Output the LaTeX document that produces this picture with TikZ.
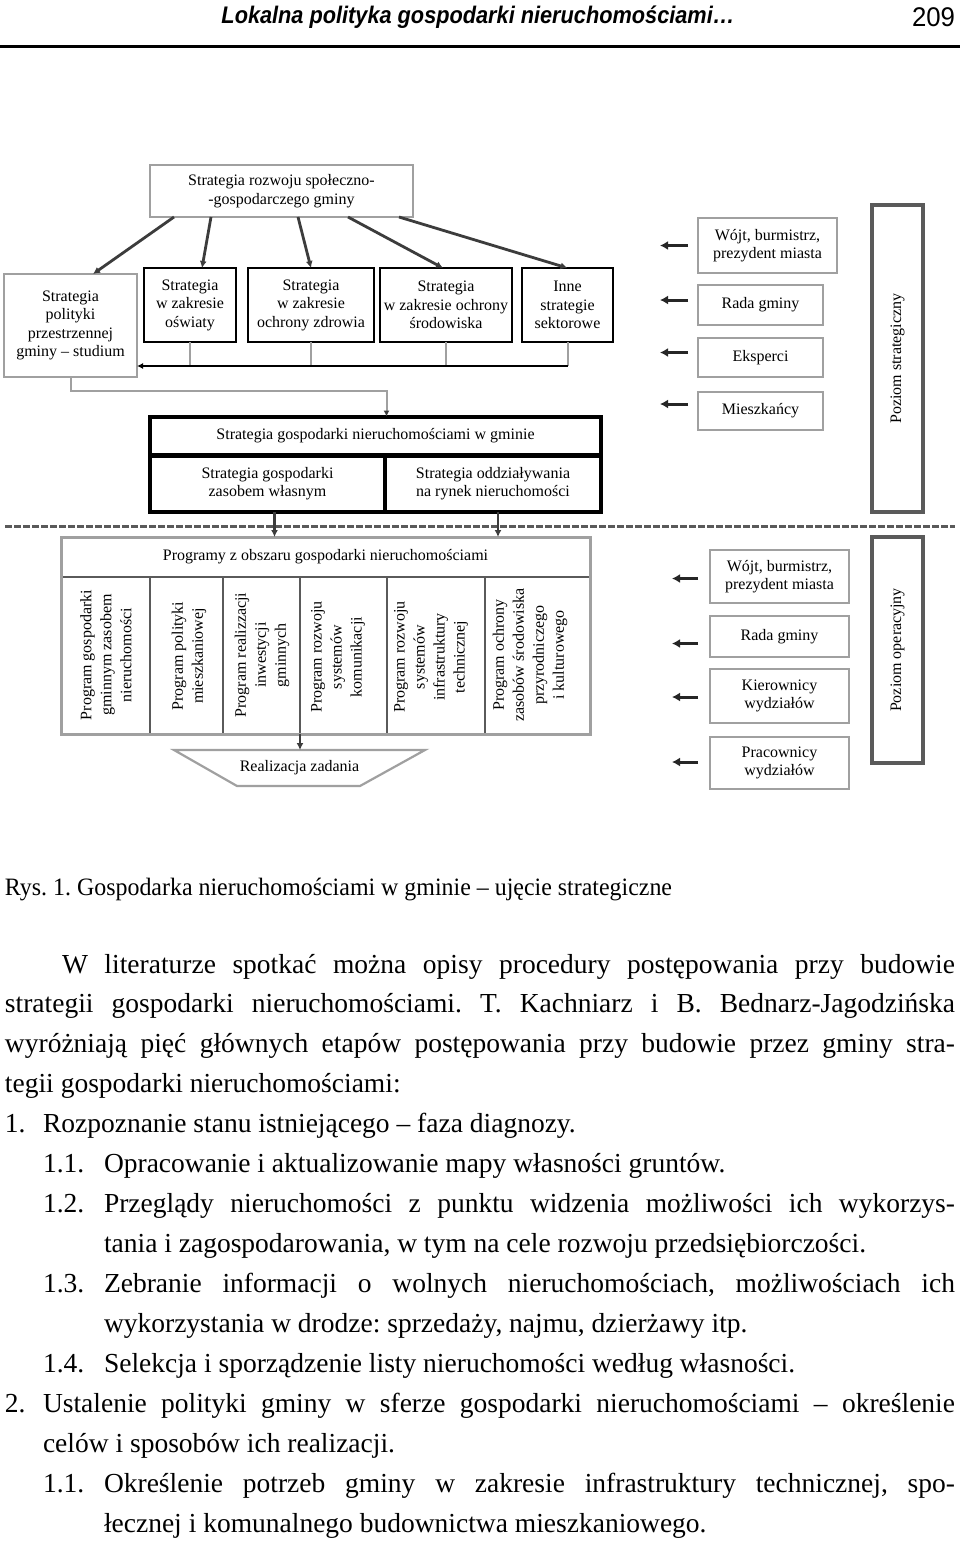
\documentclass[tikz,border=0pt]{standalone}
\usepackage{fontspec}
\setmainfont{Liberation Serif}
\newfontfamily\hdrfont{Liberation Sans}
\usepackage{graphicx}
\usetikzlibrary{arrows.meta,calc}
\definecolor{bgray}{HTML}{A0A0A0}
\definecolor{dgray}{HTML}{3C3C3C}
\definecolor{mgray}{HTML}{5A5A5A}
\frenchspacing
\begin{document}
\begin{tikzpicture}[x=1pt,y=-1pt,
  every node/.style={inner sep=0pt, outer sep=0pt},
  dtext/.style={font=\fontsize{16}{18.5}\selectfont, align=center},
  gbox/.style={dtext, draw=bgray, line width=2.2pt, fill=white},
  bbox/.style={dtext, draw=black, line width=1.8pt, fill=white},
  sbox/.style={dtext, draw=black, line width=4pt},
  rbox/.style={dtext, draw=bgray, line width=2.6pt, fill=white},
  lvl/.style={dtext, draw=mgray, line width=3.5pt, rotate=90},
  colbox/.style={draw=mgray, line width=1.2pt},
  vtext/.style={font=\fontsize{16}{20}\selectfont, align=center, rotate=90},
  arr/.style={draw=dgray, line width=2.8pt, -{Latex[length=7pt,width=7pt]}},
  garr/.style={draw=bgray, line width=2pt, -{Latex[length=6pt,width=6pt,color=dgray]}},
  busarr/.style={draw=black, line width=2.5pt, -{Latex[length=6pt,width=6pt]}},
  gline/.style={draw=bgray, line width=2pt},
  sarr/.style={draw=black!85, line width=3pt, -{Latex[length=8pt,width=9pt]}},
  body/.style={anchor=base west, font=\fontsize{27.5}{40}\selectfont},
]
\useasboundingbox (0,0) rectangle (960,1542);
\fill[white] (0,0) rectangle (960,1542);

% ---------- page header ----------
\node[anchor=center] (hdr) at (478,17) {\resizebox{513pt}{\height}{\hdrfont\bfseries\itshape\fontsize{24}{28}\selectfont Lokalna polityka gospodarki nieruchomościami…}};
\node[anchor=east] (pg) at (955,17) {\resizebox{43pt}{\height}{\hdrfont\fontsize{27}{30}\selectfont 209}};
\draw[line width=3pt] (0,46) -- (960,46);

% ---------- strategic level ----------
\node[gbox, minimum width=263pt, minimum height=52pt] (top) at (281.5,191) {Strategia rozwoju społeczno-\\-gospodarczego gminy};

\node[gbox, minimum width=133pt, minimum height=103pt] (lb) at (70.5,325.5) {Strategia\\polityki\\przestrzennej\\gminy – studium};
\node[bbox, minimum width=92pt, minimum height=74pt] (b2) at (190,305) {Strategia\\w zakresie\\oświaty};
\node[bbox, minimum width=126pt, minimum height=74pt] (b3) at (311,305) {Strategia\\w zakresie\\ochrony zdrowia};
\node[bbox, minimum width=132pt, minimum height=74pt] (b4) at (446,305) {Strategia\\w zakresie ochrony\\środowiska};
\node[bbox, minimum width=91pt, minimum height=74pt] (b5) at (567.5,305) {Inne\\strategie\\sektorowe};

\draw[arr] ([xshift=-107.5pt]top.south) -- ([xshift=22.5pt]lb.north);
\draw[arr] ([xshift=-70.5pt]top.south) -- ([xshift=12pt]b2.north);
\draw[arr] ([xshift=16.5pt]top.south) -- (b3.north);
\draw[arr] ([xshift=66.5pt]top.south) -- ([xshift=-3pt]b4.north);
\draw[arr] ([xshift=117.5pt]top.south) -- (b5.north);

\coordinate (busy) at (0,366);
\draw[gline] (b2.south) -- (b2.south |- busy);
\draw[gline] (b3.south) -- (b3.south |- busy);
\draw[gline] (b4.south) -- (b4.south |- busy);
\draw[gline] (b5.south) -- (b5.south |- busy);
\draw[busarr] (b5.south |- busy) -- (lb.east |- busy);

\node[sbox, minimum width=451pt, minimum height=39pt] (sgn) at (375.5,436) {Strategia gospodarki nieruchomościami w gminie};
\node[sbox, minimum width=235pt, minimum height=57pt] (szw) at (267.5,483.5) {Strategia gospodarki\\zasobem własnym};
\node[sbox, minimum width=216pt, minimum height=57pt] (sor) at (493,483.5) {Strategia oddziaływania\\na rynek nieruchomości};

\draw[garr] (lb.south) -- ++(0,14) -| ([xshift=11pt]sgn.north);

% right column, strategic
\node[rbox, minimum width=139pt, minimum height=55pt] (sw) at (767.5,245.5) {Wójt, burmistrz,\\prezydent miasta};
\node[rbox, minimum width=125pt, minimum height=40pt] (sr) at (760.5,305) {Rada gminy};
\node[rbox, minimum width=125pt, minimum height=39pt] (se) at (760.5,357.5) {Eksperci};
\node[rbox, minimum width=125pt, minimum height=38pt] (sm) at (760.5,411) {Mieszkańcy};
\node[lvl, minimum width=307pt, minimum height=51pt] (ps) at (897.5,358.5) {Poziom strategiczny};

\draw[sarr] ([xshift=-10pt]sw.west) -- ++(-28,0);
\draw[sarr] ([shift={(-10,-5)}]sr.west) -- ++(-28,0);
\draw[sarr] ([shift={(-10,-5)}]se.west) -- ++(-28,0);
\draw[sarr] ([shift={(-10,-7)}]sm.west) -- ++(-28,0);

% separator
\draw[draw=mgray, line width=3pt, dash pattern=on 7pt off 2pt] (5,526) -- (955,526);

% ---------- operational level ----------
\node[dtext, minimum width=529pt, minimum height=40pt] (ph) at (325.5,557) {Programy z obszaru gospodarki nieruchomościami};
\node[colbox, minimum width=89pt, minimum height=157pt] (c1) at (105.5,655.5) {};
\node[colbox, minimum width=73pt, minimum height=157pt] (c2) at (186.5,655.5) {};
\node[colbox, minimum width=77pt, minimum height=157pt] (c3) at (261.5,655.5) {};
\node[colbox, minimum width=87pt, minimum height=157pt] (c4) at (343.5,655.5) {};
\node[colbox, minimum width=98pt, minimum height=157pt] (c5) at (436,655.5) {};
\node[colbox, minimum width=105pt, minimum height=157pt] (c6) at (537.5,655.5) {};
\draw[draw=mgray, line width=1.2pt] (ph.south west) -- (ph.south east);
\draw[draw=bgray, line width=3pt] (ph.north west) rectangle (c6.south east);

\node[vtext] (t1) at (106,655) {Program gospodarki\\gminnym zasobem\\nieruchomości};
\node[vtext] (t2) at (189,656) {Program polityki\\mieszkaniowej};
\node[vtext] (t3) at (262,655) {Program realizzacji\\inwestycji\\gminnych};
\node[vtext] (t4) at (338,657) {Program rozwoju\\systemów\\komunikacji};
\node[vtext] (t5) at (431,657) {Program rozwoju\\systemów\\infrastruktury\\technicznej};
\node[vtext] (t6) at (530,655) {Program ochrony\\zasobów środowiska\\przyrodniczego\\i kulturowego};

\draw[arr] ([xshift=7pt]szw.south) -- ([xshift=7pt]szw.south |- ph.north);
\draw[arr] ([xshift=5pt]sor.south) -- ([xshift=5pt]sor.south |- ph.north);

\node[dtext, minimum width=251pt, minimum height=36pt] (rz) at (299.5,768) {Realizacja zadania};
\draw[draw=bgray, line width=2.2pt] (rz.north west) -- (rz.north east) -- ([xshift=-65pt]rz.south east) -- ([xshift=63pt]rz.south west) -- cycle;
\draw[arr] (c4.south west) -- (c4.south west |- rz.north);

% right column, operational
\node[rbox, minimum width=139pt, minimum height=53pt] (ow) at (779.5,576.5) {Wójt, burmistrz,\\prezydent miasta};
\node[rbox, minimum width=139pt, minimum height=41pt] (or) at (779.5,636.5) {Rada gminy};
\node[rbox, minimum width=139pt, minimum height=54pt] (ok) at (779.5,696) {Kierownicy\\wydziałów};
\node[rbox, minimum width=139pt, minimum height=52pt] (op) at (779.5,763) {Pracownicy\\wydziałów};
\node[lvl, minimum width=226pt, minimum height=51pt] (po) at (897.5,650) {Poziom operacyjny};

\draw[sarr] ([shift={(-12,2)}]ow.west) -- ++(-26,0);
\draw[sarr] ([shift={(-12,7)}]or.west) -- ++(-26,0);
\draw[sarr] ([shift={(-12,1)}]ok.west) -- ++(-26,0);
\draw[sarr] ([shift={(-12,-1)}]op.west) -- ++(-26,0);

% ---------- caption ----------
\node[anchor=base west] (cap) at (5,895) {\resizebox{667pt}{\height}{\fontsize{25}{30}\selectfont Rys. 1. Gospodarka nieruchomościami w gminie – ujęcie strategiczne}};

% ---------- body text ----------
\node[body] (p1) at (62,973) {\makebox[893pt][s]{W literaturze spotkać można opisy procedury postępowania przy budowie}};
\node[body] (p2) at (5,1012) {\makebox[950pt][s]{strategii gospodarki nieruchomościami. T. Kachniarz i B. Bednarz-Jagodzińska}};
\node[body] (p3) at (5,1052) {\makebox[950pt][s]{wyróżniają pięć głównych etapów postępowania przy budowie przez gminy stra-}};
\node[body] (p4) at (5,1092) {tegii gospodarki nieruchomościami:};
\node[body] (n5) at (5,1132) {1.};
\node[body] (p5) at (43,1132) {Rozpoznanie stanu istniejącego – faza diagnozy.};
\node[body] (n6) at (43,1172) {1.1.};
\node[body] (p6) at (104,1172) {Opracowanie i aktualizowanie mapy własności gruntów.};
\node[body] (n7) at (43,1212) {1.2.};
\node[body] (p7) at (104,1212) {\makebox[851pt][s]{Przeglądy nieruchomości z punktu widzenia możliwości ich wykorzys-}};
\node[body] (p8) at (104,1252) {tania i zagospodarowania, w tym na cele rozwoju przedsiębiorczości.};
\node[body] (n9) at (43,1292) {1.3.};
\node[body] (p9) at (104,1292) {\makebox[851pt][s]{Zebranie informacji o wolnych nieruchomościach, możliwościach ich}};
\node[body] (p10) at (104,1332) {wykorzystania w drodze: sprzedaży, najmu, dzierżawy itp.};
\node[body] (n11) at (43,1372) {1.4.};
\node[body] (p11) at (104,1372) {Selekcja i sporządzenie listy nieruchomości według własności.};
\node[body] (n12) at (5,1412) {2.};
\node[body] (p12) at (43,1412) {\makebox[912pt][s]{Ustalenie polityki gminy w sferze gospodarki nieruchomościami – określenie}};
\node[body] (p13) at (43,1452) {celów i sposobów ich realizacji.};
\node[body] (n14) at (43,1492) {1.1.};
\node[body] (p14) at (104,1492) {\makebox[851pt][s]{Określenie potrzeb gminy w zakresie infrastruktury technicznej, spo-}};
\node[body] (p15) at (104,1532) {łecznej i komunalnego budownictwa mieszkaniowego.};
\end{tikzpicture}
\end{document}
